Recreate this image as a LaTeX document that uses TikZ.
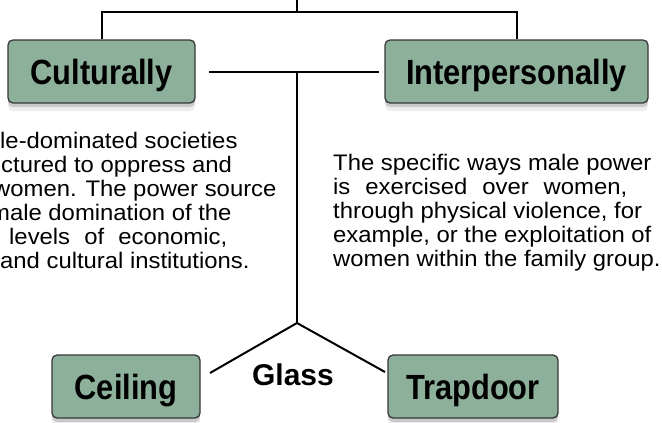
\documentclass[tikz,border=0pt]{standalone}
\usepackage{fontspec}
\setmainfont{Liberation Sans}
\newfontfamily\boxfont{Liberation Sans}[FakeStretch=0.88]
\newfontfamily\blurbfont{Liberation Sans}[FakeStretch=1.06]
\usepackage{tikz}
\usetikzlibrary{shadows}
\usepackage{xcolor}
\definecolor{sage}{RGB}{141,176,155}

\tikzset{
  catbox/.style={draw=black!78, line width=1.3pt, fill=sage, rounded corners=5pt,
    minimum height=63pt, inner sep=0pt, text height=25pt, text depth=0pt,
    font=\boxfont\bfseries\fontsize{35}{40}\selectfont,
    drop shadow={shadow xshift=0pt, shadow yshift=-8pt, opacity=.14},
    drop shadow={shadow xshift=0pt, shadow yshift=-4pt, opacity=.32}},
  blurb/.style={align=left, inner sep=0pt, anchor=north west,
    font=\blurbfont\fontsize{22.5}{24}\selectfont},
  link/.style={line width=2pt}
}

\begin{document}
\begin{tikzpicture}[x=1pt,y=-1pt]
\useasboundingbox (0,0) rectangle (662,423);
\clip (0,0) rectangle (662,423);
\node[catbox, minimum width=187pt] (cult) at (101.5,71.5) {Culturally};
\node[catbox, minimum width=263pt] (inter) at (516.5,71.5) {Interpersonally};
\node[catbox, minimum width=148pt] (ceil) at (126,386.5) {Ceiling};
\node[catbox, minimum width=170pt] (trap) at (473,386.5) {Trapdoor};
\node[anchor=base, inner sep=0pt, font=\bfseries\fontsize{30}{36}\selectfont] (glass) at (293,385) {Glass};
\node[blurb] (cultText) at (-10,131.8) {\hspace*{10pt}le-dominated societies\\
\hspace*{11pt}ctured to oppress and\\
\hspace*{3pt}women. The power source\\
male domination of the\\
\hspace*{19pt}\makebox[218pt][s]{levels of economic,}\\
\hspace*{10pt}and cultural institutions.};
\node[blurb] (interText) at (333,153.6) {The specific ways male power\\
\makebox[294pt][s]{is exercised over women,}\\
through physical violence, for\\
example, or the exploitation of\\
women within the family group.};
\coordinate (root) at (297,0);
\coordinate (bar) at (297,12);
\coordinate (fork) at (297,323);
\coordinate (cl) at (210,373);
\coordinate (tl) at (385,372);
\draw[link] (root) -- (bar);
\draw[link] (cult.north) |- (bar) -| (inter.north);
\draw[link, shorten <=13pt, shorten >=5pt] (cult.east) -- (inter.west);
\draw[link] (fork) -- (fork |- cult.east);
\draw[link] (cl) -- (fork) -- (tl);
\end{tikzpicture}
\end{document}
